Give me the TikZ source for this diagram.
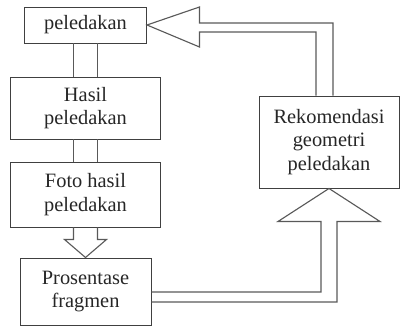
\documentclass[tikz,border=0pt]{standalone}
\usepackage{fontspec}
\setmainfont{Liberation Serif}
\usetikzlibrary{calc}

\tikzset{
  box/.style={draw=black!75, line width=0.7pt, align=center, inner sep=0pt,
    font=\fontsize{14.5}{16.5}\selectfont, text=black!85},
  pipe/.style={draw=black!65, line width=0.8pt, line join=miter}
}

\begin{document}
\begin{tikzpicture}[x=0.025cm, y=-0.025cm]
	\useasboundingbox (0,0) rectangle (402,327);

	% boxes
	\node[box, minimum width=122*0.025cm, minimum height=36*0.025cm] (ledak) at (85.5,25) {peledakan};
	\node[box, minimum width=150*0.025cm, minimum height=62*0.025cm] (hasil) at (85.5,108) {Hasil\\peledakan};
	\node[box, minimum width=150*0.025cm, minimum height=65*0.025cm] (foto) at (85.5,194.5) {Foto hasil\\peledakan};
	\node[box, minimum width=131*0.025cm, minimum height=67*0.025cm] (frag) at (85.5,291.5) {Prosentase\\fragmen};
	\node[box, minimum width=140*0.025cm, minimum height=92*0.025cm] (rekom) at (329,142) {Rekomendasi\\geometri\\peledakan};

	% double lines
	\draw[pipe] ($(ledak.south)+(-12,0)$) -- ($(hasil.north)+(-12,0)$);
	\draw[pipe] ($(ledak.south)+(12,0)$) -- ($(hasil.north)+(12,0)$);
	\draw[pipe] ($(hasil.south)+(-12,0)$) -- ($(foto.north)+(-12,0)$);
	\draw[pipe] ($(hasil.south)+(12,0)$) -- ($(foto.north)+(12,0)$);

	% hollow arrow down
	\draw[pipe] ($(foto.south)+(-12,0)$) -- ($(foto.south)+(-12,12)$) -- ($(foto.south)+(-21,12)$)
		-- (frag.north) -- ($(foto.south)+(21,12)$) -- ($(foto.south)+(12,12)$) -- ($(foto.south)+(12,0)$);

	% hollow arrow up
	\draw[pipe] ($(frag.east)+(0,0.5)$) -| ($(rekom.south)+(-8,33)$) -- ($(rekom.south)+(-51,33)$)
		-- (rekom.south) -- ($(rekom.south)+(51,33)$) -- ($(rekom.south)+(8,33)$) |- ($(frag.east)+(0,10.5)$);

	% hollow arrow back
	\draw[pipe] ($(rekom.north)+(4,0)$) |- ($(ledak.east)+(52.5,-2)$) -- ($(ledak.east)+(52.5,-18)$)
		-- (ledak.east) -- ($(ledak.east)+(52.5,22)$) -- ($(ledak.east)+(52.5,7)$) -| ($(rekom.north)+(-13,0)$);
\end{tikzpicture}
\end{document}
